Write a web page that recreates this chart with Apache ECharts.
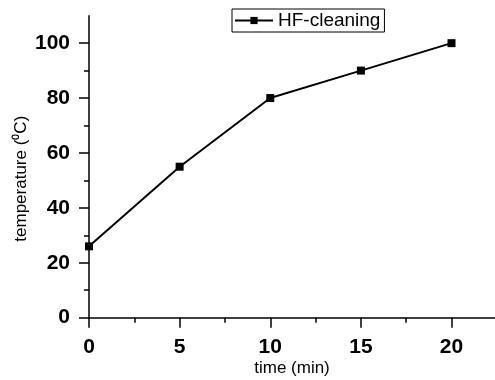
<!DOCTYPE html>
<html><head><meta charset="utf-8">
<script src="https://cdn.jsdelivr.net/npm/echarts@6/dist/echarts.min.js"></script>
<style>html,body{margin:0;padding:0;background:#fff}#c{width:495px;height:380px}</style>
</head><body><div id="c"></div>
<script>
const times = [0, 5, 10, 15, 20];
const temps = [26, 55, 80, 90, 100];
const seriesName = 'HF-cleaning';
const xTicks = [0, 5, 10, 15, 20];
const yTicks = [0, 20, 40, 60, 80, 100];

const chart = echarts.init(document.getElementById('c'));
const font = 'Liberation Sans, Arial, sans-serif';
chart.setOption({
  animation: false,
  backgroundColor: '#fff',
  grid: {left: 89, right: 0, top: 15.7, bottom: 62.3, outerBoundsMode: 'none', containLabel: false},
  legend: {
    left: 232, top: 9, padding: [2, 4, 2, 2],
    borderColor: '#000', borderWidth: 1,
    itemWidth: 38, itemHeight: 9, itemGap: 4,
    textStyle: {fontFamily: font, fontSize: 19, color: '#000'},
    data: [seriesName]
  },
  xAxis: {
    type: 'value', min: 0, max: 22.4, interval: 5,
    name: 'time (min)', nameLocation: 'middle', nameGap: 42, nameMoveOverlap: false,
    nameTextStyle: {fontFamily: font, fontSize: 17, color: '#000'},
    axisLine: {onZero: false, lineStyle: {color: '#000', width: 1.5}},
    axisTick: {show: true, inside: false, length: 10, lineStyle: {color: '#000', width: 1.5}, customValues: xTicks},
    minorTick: {show: true, splitNumber: 2, length: 5, lineStyle: {color: '#000', width: 1.5}},
    axisLabel: {fontFamily: font, fontSize: 21, fontWeight: 'bold', color: '#000', margin: 19, customValues: xTicks},
    splitLine: {show: false}
  },
  yAxis: {
    type: 'value', min: 0, max: 110, interval: 20,
    name: 'temperature (⁰C)', nameLocation: 'middle', nameGap: 59, nameRotate: 90, nameMoveOverlap: false,
    nameTextStyle: {fontFamily: font, fontSize: 17, color: '#000', padding: [0, 24, 0, 0]},
    axisLine: {onZero: false, lineStyle: {color: '#000', width: 1.5}},
    axisTick: {show: true, length: 10, lineStyle: {color: '#000', width: 1.5}, customValues: yTicks},
    minorTick: {show: true, splitNumber: 2, length: 5, lineStyle: {color: '#000', width: 1.5}},
    axisLabel: {fontFamily: font, fontSize: 21, fontWeight: 'bold', color: '#000', margin: 19, customValues: yTicks},
    splitLine: {show: false}
  },
  series: [{
    name: seriesName, type: 'line',
    data: times.map((t, i) => [t, temps[i]]),
    symbol: 'rect', symbolSize: 8,
    itemStyle: {color: '#000'},
    lineStyle: {color: '#000', width: 2}
  }]
});
</script></body></html>
